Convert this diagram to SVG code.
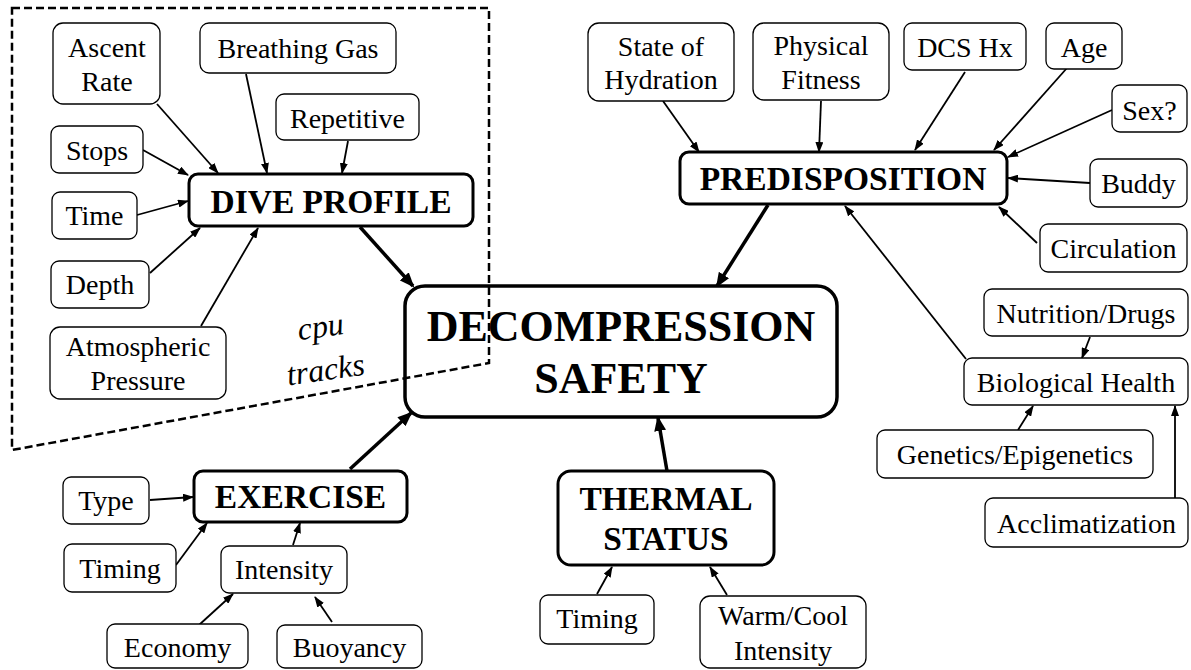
<svg xmlns="http://www.w3.org/2000/svg" width="1191" height="670" viewBox="0 0 1191 670" font-family="Liberation Serif, Times New Roman, serif">
<style>
  .box { fill: #fff; stroke: #000; stroke-width: 1.3; }
  .main { fill: #fff; stroke: #000; stroke-width: 3; }
  .t { font-size: 28px; fill: #000; text-anchor: middle; }
  .b { font-size: 33.5px; font-weight: bold; fill: #000; text-anchor: middle; }
  .big { font-size: 44px; font-weight: bold; fill: #000; text-anchor: middle; }
  .it { font-size: 32px; font-style: italic; fill: #000; text-anchor: middle; }
  .c { fill: none; stroke: #000; stroke-width: 1.8; marker-end: url(#ah); }
  .ck { fill: none; stroke: #000; stroke-width: 3.5; marker-end: url(#ahb); }
</style>
<defs>
  <marker id="ah" markerUnits="userSpaceOnUse" markerWidth="11" markerHeight="8" refX="10" refY="4" orient="auto">
    <path d="M0,0 L11,4 L0,8 z" fill="#000"/>
  </marker>
  <marker id="ahb" markerUnits="userSpaceOnUse" markerWidth="15" markerHeight="12" refX="13" refY="6" orient="auto">
    <path d="M0,0 L15,6 L0,12 z" fill="#000"/>
  </marker>
</defs>
<rect width="1191" height="670" fill="#fff"/>

<g id="connectors">
  <line class="c" x1="157" y1="104" x2="218" y2="173"/>
  <line class="c" x1="246" y1="74" x2="267" y2="173"/>
  <line class="c" x1="348" y1="141" x2="342" y2="173"/>
  <line class="c" x1="143" y1="150" x2="188" y2="175"/>
  <line class="c" x1="137" y1="215" x2="188" y2="201"/>
  <line class="c" x1="150" y1="273" x2="200" y2="228"/>
  <line class="c" x1="201" y1="326" x2="258" y2="228"/>
  <line class="ck" x1="360" y1="227" x2="413" y2="286"/>
  <line class="c" x1="663" y1="101" x2="699" y2="152"/>
  <line class="c" x1="821" y1="101" x2="819" y2="152"/>
  <line class="c" x1="965" y1="72" x2="915" y2="150"/>
  <line class="c" x1="1067" y1="68" x2="994" y2="150"/>
  <line class="c" x1="1112" y1="110" x2="1008" y2="157"/>
  <line class="c" x1="1090" y1="183" x2="1008" y2="178"/>
  <line class="c" x1="1037" y1="243" x2="999" y2="207"/>
  <line class="c" x1="966" y1="359" x2="845" y2="206"/>
  <line class="ck" x1="768" y1="205" x2="717" y2="286"/>
  <line class="c" x1="1090" y1="337" x2="1082" y2="358"/>
  <line class="c" x1="1018" y1="430" x2="1033" y2="406"/>
  <line class="c" x1="1175" y1="498" x2="1175" y2="406"/>
  <line class="c" x1="150" y1="500" x2="193" y2="497"/>
  <line class="c" x1="176" y1="565" x2="207" y2="523"/>
  <line class="c" x1="293" y1="545" x2="300" y2="523"/>
  <line class="c" x1="199" y1="625" x2="233" y2="594"/>
  <line class="c" x1="332" y1="622" x2="315" y2="597"/>
  <line class="ck" x1="350" y1="469" x2="411" y2="413"/>
  <line class="c" x1="597" y1="594" x2="612" y2="567"/>
  <line class="c" x1="727" y1="595" x2="710" y2="567"/>
  <line class="ck" x1="667" y1="471" x2="658" y2="418"/>
</g>

<g id="decompression-safety">
  <rect x="405" y="286" width="432" height="131" rx="20" fill="#fff" stroke="#000" stroke-width="3.5"/>
  <text class="big" x="621" y="341">DECOMPRESSION</text>
  <text class="big" x="621" y="393">SAFETY</text>
</g>

<g id="dive-profile">
  <rect class="main" x="189" y="174" width="284" height="52" rx="9"/>
  <text class="b" x="331" y="213">DIVE PROFILE</text>
</g>
<g id="ascent-rate">
  <rect class="box" x="53" y="23" width="107" height="81" rx="10"/>
  <text class="t" x="107" y="57">Ascent</text>
  <text class="t" x="107" y="91">Rate</text>
</g>
<g id="breathing-gas">
  <rect class="box" x="200" y="23" width="196" height="50" rx="9"/>
  <text class="t" x="298" y="58">Breathing Gas</text>
</g>
<g id="repetitive">
  <rect class="box" x="276" y="94" width="143" height="46" rx="8"/>
  <text class="t" x="347.5" y="128">Repetitive</text>
</g>
<g id="stops">
  <rect class="box" x="51" y="126" width="92" height="47" rx="8"/>
  <text class="t" x="97" y="160">Stops</text>
</g>
<g id="time">
  <rect class="box" x="52" y="192" width="85" height="47" rx="8"/>
  <text class="t" x="94.5" y="225">Time</text>
</g>
<g id="depth">
  <rect class="box" x="51" y="261" width="98" height="47" rx="8"/>
  <text class="t" x="100" y="294">Depth</text>
</g>
<g id="atmospheric-pressure">
  <rect class="box" x="50" y="327" width="176" height="72" rx="10"/>
  <text class="t" x="138" y="356">Atmospheric</text>
  <text class="t" x="138" y="390">Pressure</text>
</g>
<g id="cpu-tracks">
  <text class="it" transform="rotate(-8 322 337)" x="322" y="337">cpu</text>
  <text class="it" transform="rotate(-8 327 380)" x="327" y="380">tracks</text>
</g>

<g id="predisposition">
  <rect class="main" x="680" y="152" width="327" height="52" rx="9"/>
  <text class="b" x="843" y="190">PREDISPOSITION</text>
</g>
<g id="state-of-hydration">
  <rect class="box" x="588" y="23" width="146" height="78" rx="11"/>
  <text class="t" x="661" y="56">State of</text>
  <text class="t" x="661" y="89">Hydration</text>
</g>
<g id="physical-fitness">
  <rect class="box" x="753" y="23" width="136" height="77" rx="11"/>
  <text class="t" x="821" y="55">Physical</text>
  <text class="t" x="821" y="89">Fitness</text>
</g>
<g id="dcs-hx">
  <rect class="box" x="904" y="23" width="122" height="47" rx="8"/>
  <text class="t" x="965" y="57">DCS Hx</text>
</g>
<g id="age">
  <rect class="box" x="1046" y="23" width="76" height="46" rx="8"/>
  <text class="t" x="1084" y="57">Age</text>
</g>
<g id="sex">
  <rect class="box" x="1112" y="85" width="75" height="47" rx="8"/>
  <text class="t" x="1149.5" y="120">Sex?</text>
</g>
<g id="buddy">
  <rect class="box" x="1090" y="159" width="97" height="48" rx="8"/>
  <text class="t" x="1138.5" y="193">Buddy</text>
</g>
<g id="circulation">
  <rect class="box" x="1040" y="224" width="147" height="48" rx="8"/>
  <text class="t" x="1113.5" y="258">Circulation</text>
</g>
<g id="nutrition-drugs">
  <rect class="box" x="984" y="289" width="204" height="47" rx="8"/>
  <text class="t" x="1086" y="323">Nutrition/Drugs</text>
</g>
<g id="biological-health">
  <rect class="box" x="964" y="358" width="224" height="47" rx="8"/>
  <text class="t" x="1076" y="392">Biological Health</text>
</g>
<g id="genetics-epigenetics">
  <rect class="box" x="877" y="430" width="276" height="48" rx="8"/>
  <text class="t" x="1015" y="464">Genetics/Epigenetics</text>
</g>
<g id="acclimatization">
  <rect class="box" x="985" y="498" width="203" height="49" rx="8"/>
  <text class="t" x="1086.5" y="533">Acclimatization</text>
</g>

<g id="exercise">
  <rect class="main" x="194" y="471" width="213" height="51" rx="9"/>
  <text class="b" x="300.5" y="508">EXERCISE</text>
</g>
<g id="type">
  <rect class="box" x="63" y="477" width="86" height="47" rx="8"/>
  <text class="t" x="106" y="510">Type</text>
</g>
<g id="timing-exercise">
  <rect class="box" x="64" y="544" width="112" height="48" rx="8"/>
  <text class="t" x="120" y="578">Timing</text>
</g>
<g id="intensity">
  <rect class="box" x="221" y="546" width="126" height="47" rx="8"/>
  <text class="t" x="284" y="579">Intensity</text>
</g>
<g id="economy">
  <rect class="box" x="107" y="624" width="141" height="44" rx="8"/>
  <text class="t" x="177.5" y="657">Economy</text>
</g>
<g id="buoyancy">
  <rect class="box" x="277" y="625" width="145" height="43" rx="8"/>
  <text class="t" x="349.5" y="657">Buoyancy</text>
</g>

<g id="thermal-status">
  <rect class="main" x="558" y="471" width="216" height="94" rx="13"/>
  <text class="b" x="666" y="510">THERMAL</text>
  <text class="b" x="666" y="550">STATUS</text>
</g>
<g id="timing-thermal">
  <rect class="box" x="540" y="595" width="114" height="49" rx="8"/>
  <text class="t" x="597" y="628">Timing</text>
</g>
<g id="warm-cool-intensity">
  <rect class="box" x="700" y="596" width="166" height="72" rx="10"/>
  <text class="t" x="783" y="625">Warm/Cool</text>
  <text class="t" x="783" y="660">Intensity</text>
</g>

<g id="cpu-region">
  <path d="M12,8 H489 V363 L12,450 Z" fill="none" stroke="#000" stroke-width="2.5" stroke-dasharray="8,4"/>
</g>
</svg>
